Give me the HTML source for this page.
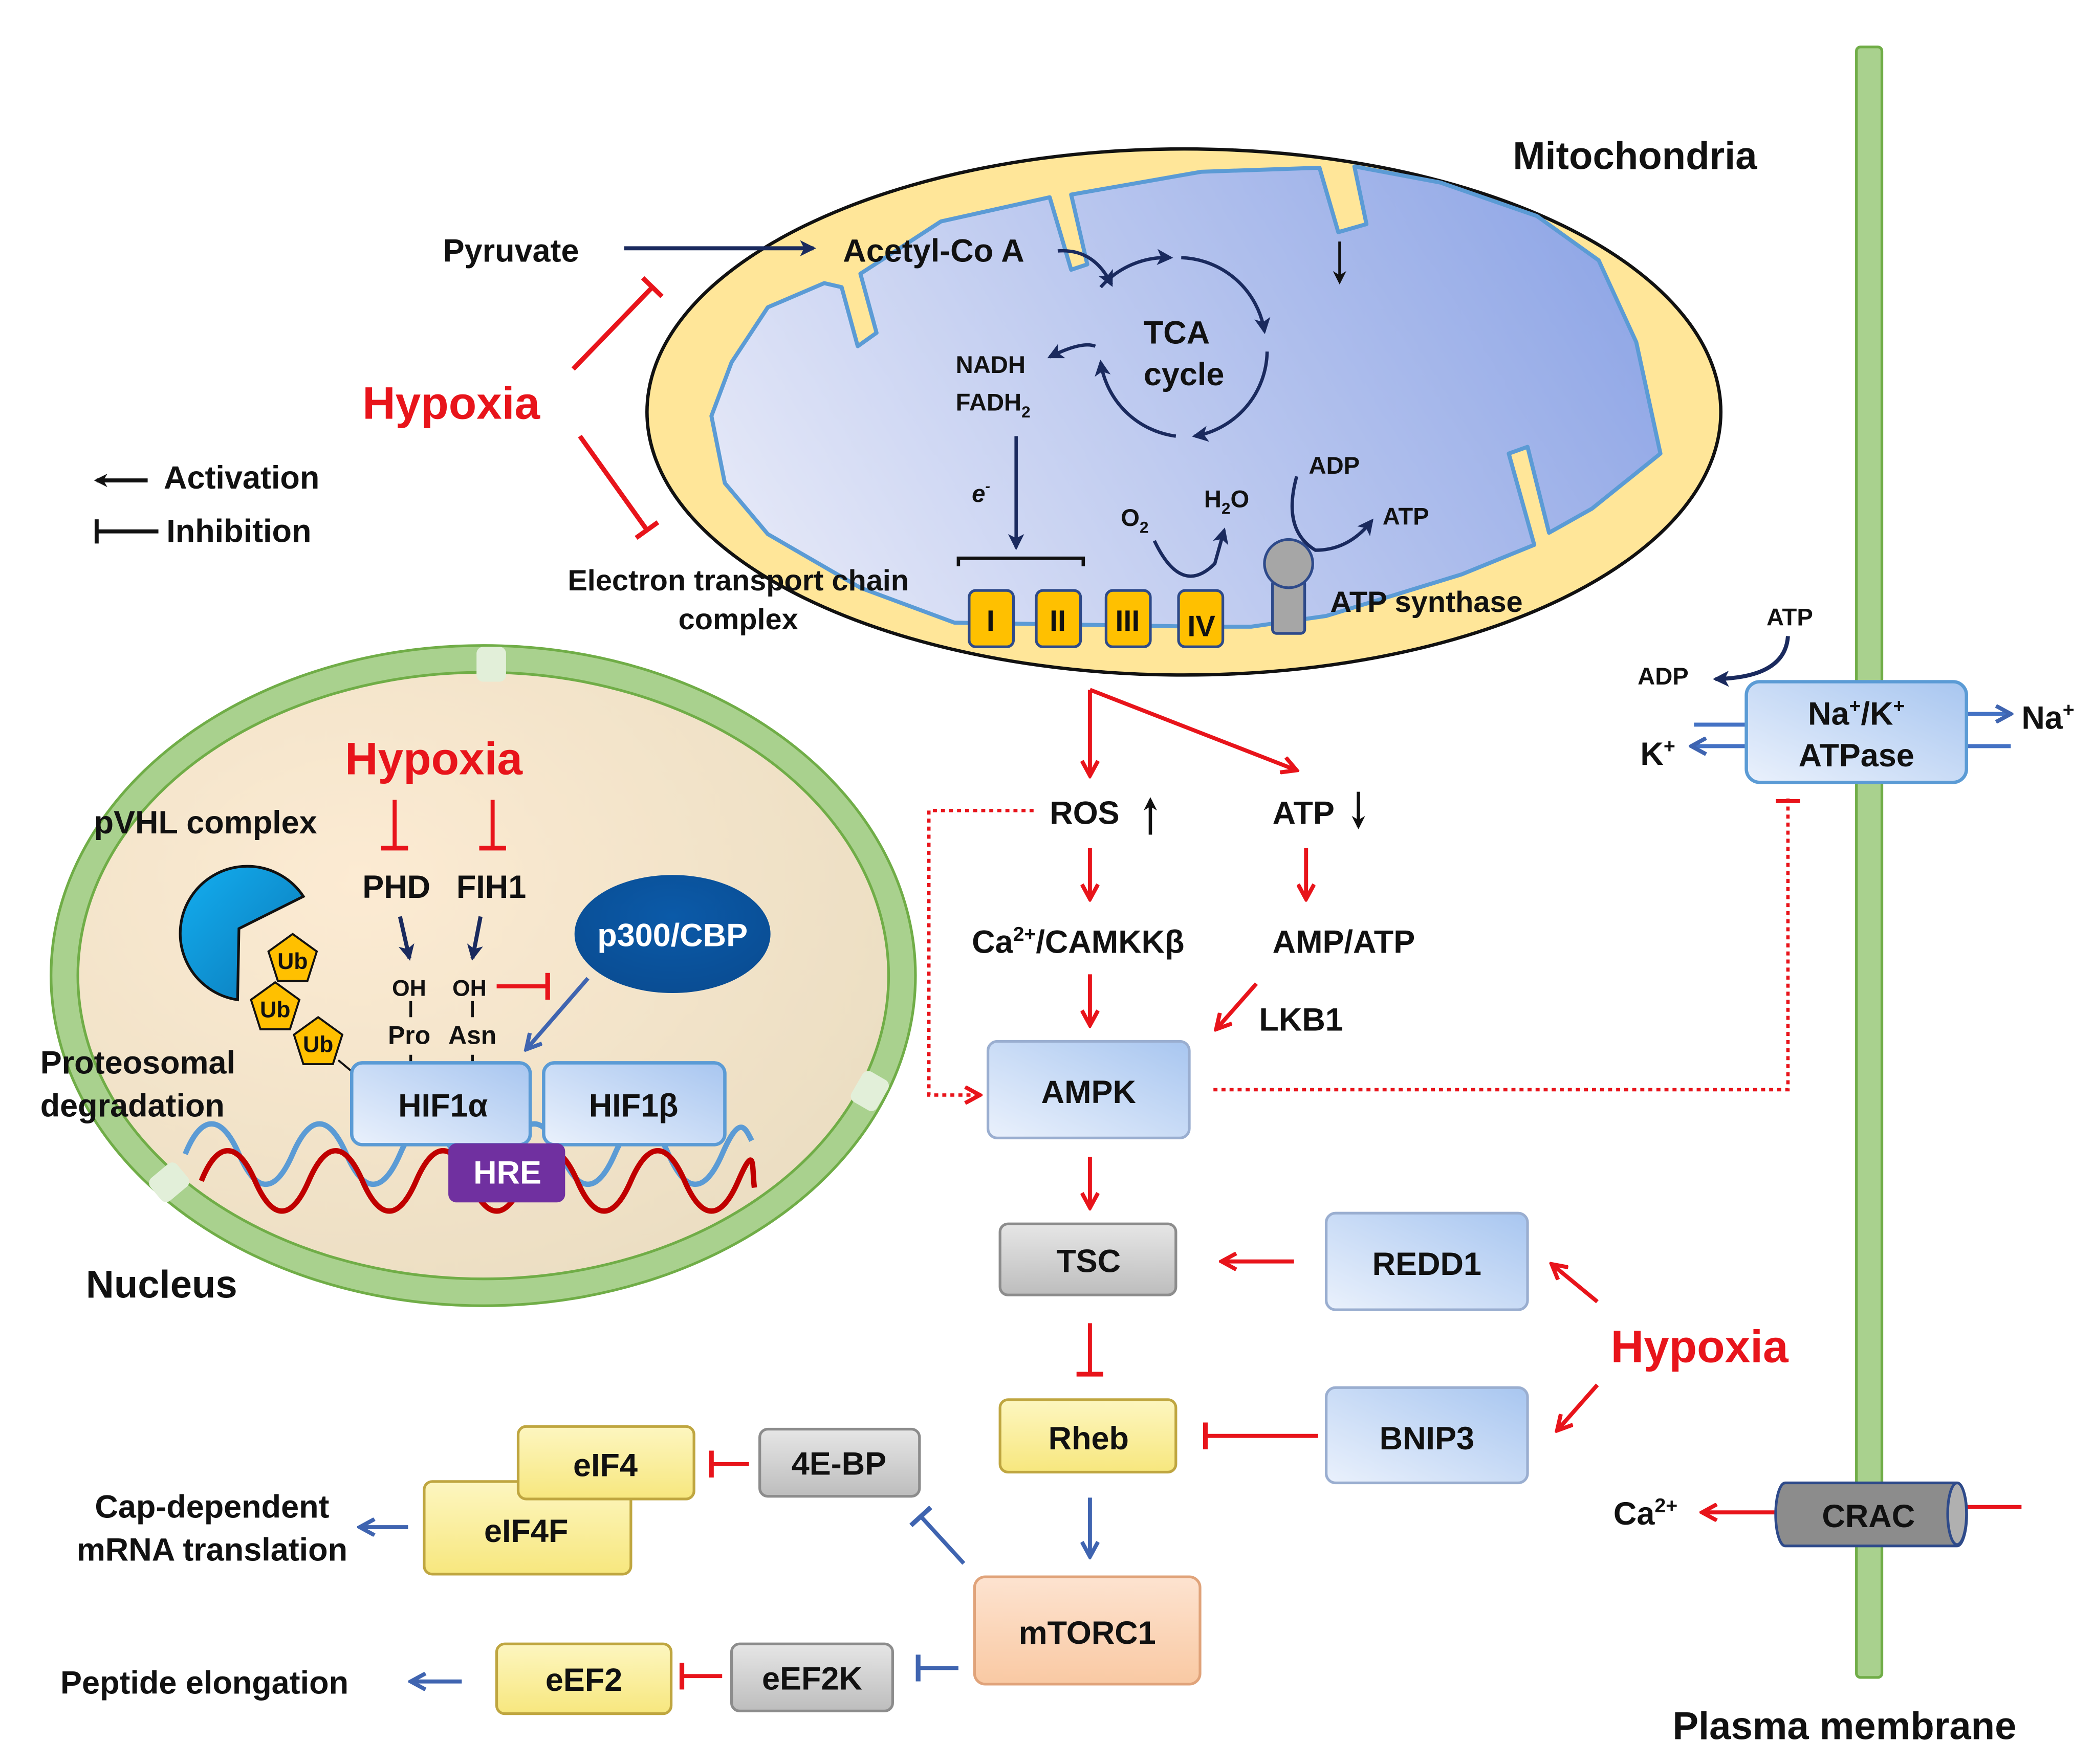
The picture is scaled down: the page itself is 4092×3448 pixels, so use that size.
<!DOCTYPE html>
<html><head><meta charset="utf-8"><style>
html,body{margin:0;padding:0;background:#fff}
svg{display:block}
text{font-family:"Liberation Sans",Arial,sans-serif;font-weight:bold;fill:#111}
</style></head><body>
<svg width="4092" height="3448" viewBox="0 0 1560 1314.5" xmlns="http://www.w3.org/2000/svg">
<defs>
<marker id="aK" markerWidth="10" markerHeight="10" refX="8" refY="5" orient="auto" markerUnits="userSpaceOnUse"><path d="M0,0 L10,5 L0,10 L3,5z" fill="#111"/></marker>
<marker id="aN" markerWidth="12" markerHeight="12" refX="10" refY="6" orient="auto" markerUnits="userSpaceOnUse"><path d="M0,0 L12,6 L0,12 L3,6z" fill="#1a2a5e"/></marker>
<marker id="aR" markerWidth="14" markerHeight="14" refX="12" refY="7" orient="auto" markerUnits="userSpaceOnUse"><path d="M1,1 L12,7 L1,13" fill="none" stroke="#e8141b" stroke-width="3"/></marker>
<marker id="aB" markerWidth="14" markerHeight="14" refX="12" refY="7" orient="auto" markerUnits="userSpaceOnUse"><path d="M1,1 L12,7 L1,13" fill="none" stroke="#3f64b0" stroke-width="3"/></marker>
<marker id="tR" markerWidth="4" markerHeight="20" refX="2" refY="10" orient="auto" markerUnits="userSpaceOnUse"><path d="M2,0 L2,20" stroke="#e8141b" stroke-width="3.5"/></marker>
<marker id="tB" markerWidth="4" markerHeight="20" refX="2" refY="10" orient="auto" markerUnits="userSpaceOnUse"><path d="M2,0 L2,20" stroke="#3f64b0" stroke-width="3.5"/></marker>
<linearGradient id="mito" x1="0" y1="0.6" x2="1" y2="0.3"><stop offset="0" stop-color="#e2e6f7"/><stop offset="1" stop-color="#8fa6e6"/></linearGradient>
<linearGradient id="bl" x1="0" y1="1" x2="1" y2="0"><stop offset="0" stop-color="#eaf1fc"/><stop offset="1" stop-color="#a8c6f0"/></linearGradient>
<linearGradient id="gr" x1="0" y1="0" x2="0" y2="1"><stop offset="0" stop-color="#e6e6e6"/><stop offset="1" stop-color="#bdbdbd"/></linearGradient>
<linearGradient id="ye" x1="0" y1="0" x2="0" y2="1"><stop offset="0" stop-color="#fdf6c0"/><stop offset="1" stop-color="#f7e77e"/></linearGradient>
<linearGradient id="pe" x1="0" y1="0" x2="0" y2="1"><stop offset="0" stop-color="#fde3d0"/><stop offset="1" stop-color="#f9c9a3"/></linearGradient>
<radialGradient id="nuc" cx="0.35" cy="0.35" r="0.8"><stop offset="0" stop-color="#fcebd3"/><stop offset="1" stop-color="#e9dcc0"/></radialGradient>
<linearGradient id="pac" x1="0" y1="0" x2="1" y2="1"><stop offset="0" stop-color="#13aef0"/><stop offset="1" stop-color="#0b78b7"/></linearGradient>
<radialGradient id="p300" cx="0.5" cy="0.35" r="0.7"><stop offset="0" stop-color="#0b5aa8"/><stop offset="1" stop-color="#0a4c92"/></radialGradient>
</defs>

<rect x="1383" y="35" width="19" height="1215" rx="3" fill="#a9d18e" stroke="#70ad47" stroke-width="2"/>
<text x="1246" y="1296" font-size="29">Plasma membrane</text>

<ellipse cx="882" cy="307" rx="400" ry="196" fill="#ffe699" stroke="#111" stroke-width="2.5"/>
<polygon points="572,229 614,211 627,214 639,258 653,248 641,204 701,165 782,147 798,201 810,197 798,145 895,128 983,125 997,173 1018,167 1009,124 1073,136 1145,161 1191,194 1219,255 1237,338 1186,379 1154,397 1138,333 1124,338 1143,406 1089,428 988,459 932,467 895,467 711,464 641,438 572,398 540,360 530,310 545,270" fill="url(#mito)" stroke="#5b9bd5" stroke-width="3" stroke-linejoin="round"/>
<text x="1127" y="126" font-size="29">Mitochondria</text>

<text x="330" y="195" font-size="24">Pyruvate</text>
<path d="M465,185 L606,185" stroke="#1a2a5e" stroke-width="3" marker-end="url(#aN)"/>
<text x="628" y="195" font-size="24">Acetyl-Co A</text>
<path d="M788,187 Q815,185 828,212" stroke="#1a2a5e" stroke-width="2.5" fill="none" marker-end="url(#aN)"/>
<g fill="none" stroke="#1a2a5e" stroke-width="2.5">
<path d="M820,214 A65,65 0 0 1 872,192" marker-end="url(#aN)"/>
<path d="M880,192 A65,65 0 0 1 942,247" marker-end="url(#aN)"/>
<path d="M944,262 A65,65 0 0 1 890,325" marker-end="url(#aN)"/>
<path d="M876,325 A65,65 0 0 1 820,270" marker-end="url(#aN)"/>
<path d="M816,258 Q806,254 782,266" marker-end="url(#aN)"/>
<path d="M757,325 L757,408" marker-end="url(#aN)"/>
<path d="M998,180 L998,210" stroke="#111" stroke-width="2" marker-end="url(#aK)"/>
<path d="M860,403 Q880,445 905,420 L912,395" marker-end="url(#aN)"/>
<path d="M966,355 Q955,395 980,410 Q1005,410 1022,388" marker-end="url(#aN)"/>
</g>
<text x="852" y="256" font-size="24">TCA</text>
<text x="852" y="287" font-size="24">cycle</text>
<text x="712" y="278" font-size="18">NADH</text>
<text x="712" y="306" font-size="18">FADH<tspan font-size="12" dy="5">2</tspan></text>
<text x="724" y="374" font-size="18" font-style="italic">e<tspan font-size="11" dy="-8">-</tspan></text>
<text x="835" y="392" font-size="18">O<tspan font-size="12" dy="5">2</tspan></text>
<text x="897" y="378" font-size="18">H<tspan font-size="12" dy="5">2</tspan><tspan dy="-5">O</tspan></text>
<text x="975" y="353" font-size="18">ADP</text>
<text x="1030" y="391" font-size="18">ATP</text>
<path d="M714,422 L714,416 L807,416 L807,422" stroke="#111" stroke-width="2.5" fill="none"/>
<g stroke="#2e4a8a" stroke-width="2" fill="#ffc000">
<rect x="722" y="440" width="33" height="42" rx="5"/>
<rect x="772" y="440" width="33" height="42" rx="5"/>
<rect x="824" y="440" width="33" height="42" rx="5"/>
<rect x="878" y="440" width="33" height="42" rx="5"/>
</g>
<text x="738" y="470" font-size="22" text-anchor="middle">I</text>
<text x="788" y="470" font-size="22" text-anchor="middle">II</text>
<text x="840" y="470" font-size="22" text-anchor="middle">III</text>
<text x="895" y="474" font-size="22" text-anchor="middle">IV</text>
<rect x="948" y="432" width="24" height="40" rx="3" fill="#a6a6a6" stroke="#2e4a8a" stroke-width="2"/>
<ellipse cx="960" cy="420" rx="18" ry="18" fill="#a6a6a6" stroke="#2e4a8a" stroke-width="2"/>
<text x="991" y="456" font-size="22">ATP synthase</text>
<text x="550" y="440" font-size="22" text-anchor="middle">Electron transport chain</text>
<text x="550" y="469" font-size="22" text-anchor="middle">complex</text>

<text x="270" y="312" font-size="34" style="fill:#e8141b">Hypoxia</text>
<path d="M427,275 L486,214" stroke="#e8141b" stroke-width="3.5" marker-end="url(#tR)"/>
<path d="M432,325 L482,395" stroke="#e8141b" stroke-width="3.5" marker-end="url(#tR)"/>

<path d="M110,358 L72,358" stroke="#111" stroke-width="3" marker-end="url(#aK)"/>
<text x="122" y="364" font-size="24">Activation</text>
<path d="M72,387 L72,405 M72,396 L118,396" stroke="#111" stroke-width="3"/>
<text x="124" y="404" font-size="24">Inhibition</text>

<ellipse cx="360" cy="727" rx="312" ry="236" fill="url(#nuc)" stroke="#a9d18e" stroke-width="20"/>
<ellipse cx="360" cy="727" rx="322" ry="246" fill="none" stroke="#70ad47" stroke-width="2"/>
<ellipse cx="360" cy="727" rx="302" ry="226" fill="none" stroke="#70ad47" stroke-width="2"/>
<rect x="355" y="482" width="22" height="26" rx="5" fill="#e2efd9"/>
<rect x="637" y="800" width="22" height="26" rx="5" fill="#e2efd9" transform="rotate(30 648 813)"/>
<rect x="115" y="868" width="22" height="26" rx="5" fill="#e2efd9" transform="rotate(50 126 881)"/>
<text x="64" y="967" font-size="29">Nucleus</text>
<text x="257" y="577" font-size="34" style="fill:#e8141b">Hypoxia</text>
<text x="70" y="621" font-size="24">pVHL complex</text>
<path d="M294,596 L294,632" stroke="#e8141b" stroke-width="3" marker-end="url(#tR)"/>
<path d="M367,596 L367,632" stroke="#e8141b" stroke-width="3" marker-end="url(#tR)"/>
<text x="270" y="669" font-size="24">PHD</text>
<text x="340" y="669" font-size="24">FIH1</text>
<path d="M298,683 L305,714" stroke="#1a2a5e" stroke-width="3" marker-end="url(#aN)"/>
<path d="M358,683 L352,714" stroke="#1a2a5e" stroke-width="3" marker-end="url(#aN)"/>
<text x="292" y="742" font-size="17">OH</text>
<text x="337" y="742" font-size="17">OH</text>
<path d="M306,746 L306,758 M352,746 L352,758 M306,786 L306,795 M352,786 L352,795" stroke="#111" stroke-width="2"/>
<text x="289" y="778" font-size="19">Pro</text>
<text x="334" y="778" font-size="19">Asn</text>
<path d="M370,735 L408,735" stroke="#e8141b" stroke-width="3" marker-end="url(#tR)"/>
<ellipse cx="501" cy="696" rx="73" ry="44" fill="url(#p300)"/>
<text x="501" y="705" font-size="24" text-anchor="middle" style="fill:#fff">p300/CBP</text>
<path d="M438,729 L392,782" stroke="#3f64b0" stroke-width="3" marker-end="url(#aB)"/>
<path d="M178,692 L226,668 A50,50 0 1 0 177,745 Z" fill="url(#pac)" stroke="#111" stroke-width="2"/>
<g fill="#ffc000" stroke="#111" stroke-width="1.5">
<polygon points="218,696 236,709 229,731 207,731 200,709"/>
<polygon points="205,732 223,745 216,767 194,767 187,745"/>
<polygon points="237,758 255,771 248,793 226,793 219,771"/>
</g>
<text x="218" y="722" font-size="17" text-anchor="middle">Ub</text>
<text x="205" y="758" font-size="17" text-anchor="middle">Ub</text>
<text x="237" y="784" font-size="17" text-anchor="middle">Ub</text>
<path d="M252,790 L264,800" stroke="#111" stroke-width="1.5"/>
<text x="30" y="800" font-size="24">Proteosomal</text>
<text x="30" y="832" font-size="24">degradation</text>
<path d="M138,860 C150,830 165,830 178,860 S205,890 218,860 S245,830 258,860 S285,890 298,860 S325,830 338,860 S365,890 378,860 S405,830 418,860 S445,890 458,860 S485,830 498,860 S525,890 538,860 S555,840 560,850" fill="none" stroke="#5b9bd5" stroke-width="4"/>
<path d="M150,880 C162,850 177,850 190,880 S217,910 230,880 S257,850 270,880 S297,910 310,880 S337,850 350,880 S377,910 390,880 S417,850 430,880 S457,910 470,880 S497,850 510,880 S537,910 550,880 S560,870 562,885" fill="none" stroke="#c00000" stroke-width="4"/>
<rect x="262" y="792" width="133" height="61" rx="8" fill="url(#bl)" stroke="#5b9bd5" stroke-width="2.5"/>
<rect x="405" y="792" width="135" height="61" rx="8" fill="url(#bl)" stroke="#5b9bd5" stroke-width="2.5"/>
<text x="330" y="832" font-size="24" text-anchor="middle">HIF1α</text>
<text x="472" y="832" font-size="24" text-anchor="middle">HIF1β</text>
<rect x="334" y="852" width="87" height="44" rx="6" fill="#7030a0"/>
<text x="378" y="882" font-size="24" text-anchor="middle" style="fill:#fff">HRE</text>

<path d="M812,514 L812,578" stroke="#e8141b" stroke-width="3" marker-end="url(#aR)"/>
<path d="M812,514 L966,574" stroke="#e8141b" stroke-width="3" marker-end="url(#aR)"/>
<text x="782" y="614" font-size="24">ROS</text>
<path d="M857,622 L857,596" stroke="#111" stroke-width="2.5" marker-end="url(#aK)"/>
<text x="948" y="614" font-size="24">ATP</text>
<path d="M1012,590 L1012,616" stroke="#111" stroke-width="2.5" marker-end="url(#aK)"/>
<path d="M812,632 L812,670" stroke="#e8141b" stroke-width="3" marker-end="url(#aR)"/>
<path d="M973,632 L973,670" stroke="#e8141b" stroke-width="3" marker-end="url(#aR)"/>
<text x="724" y="710" font-size="24">Ca<tspan font-size="15" dy="-9">2+</tspan><tspan dy="9">/CAMKKβ</tspan></text>
<text x="948" y="710" font-size="24">AMP/ATP</text>
<path d="M812,726 L812,764" stroke="#e8141b" stroke-width="3" marker-end="url(#aR)"/>
<path d="M936,733 L906,767" stroke="#e8141b" stroke-width="3" marker-end="url(#aR)"/>
<text x="938" y="768" font-size="24">LKB1</text>
<path d="M770,604 L692,604 L692,816 L730,816" stroke="#e8141b" stroke-width="2.5" stroke-dasharray="3,3" fill="none" marker-end="url(#aR)"/>
<path d="M904,812 L1332,812 L1332,594" stroke="#e8141b" stroke-width="2.5" stroke-dasharray="3,3" fill="none"/>
<path d="M1323,597 L1341,597" stroke="#e8141b" stroke-width="3"/>
<rect x="736" y="776" width="150" height="72" rx="7" fill="url(#bl)" stroke="#9aaed0" stroke-width="2"/>
<text x="811" y="822" font-size="24" text-anchor="middle">AMPK</text>
<path d="M812,862 L812,900" stroke="#e8141b" stroke-width="3" marker-end="url(#aR)"/>
<rect x="745" y="912" width="131" height="53" rx="6" fill="url(#gr)" stroke="#8c8c8c" stroke-width="2"/>
<text x="811" y="948" font-size="24" text-anchor="middle">TSC</text>
<rect x="988" y="904" width="150" height="72" rx="7" fill="url(#bl)" stroke="#9aaed0" stroke-width="2"/>
<text x="1063" y="950" font-size="24" text-anchor="middle">REDD1</text>
<path d="M964,940 L910,940" stroke="#e8141b" stroke-width="3" marker-end="url(#aR)"/>
<text x="1200" y="1015" font-size="34" style="fill:#e8141b">Hypoxia</text>
<path d="M1190,970 L1156,942" stroke="#e8141b" stroke-width="3" marker-end="url(#aR)"/>
<path d="M1190,1032 L1160,1066" stroke="#e8141b" stroke-width="3" marker-end="url(#aR)"/>
<path d="M812,986 L812,1024" stroke="#e8141b" stroke-width="3" marker-end="url(#tR)"/>
<rect x="745" y="1043" width="131" height="54" rx="6" fill="url(#ye)" stroke="#bfa640" stroke-width="2"/>
<text x="811" y="1080" font-size="24" text-anchor="middle">Rheb</text>
<rect x="988" y="1034" width="150" height="71" rx="7" fill="url(#bl)" stroke="#9aaed0" stroke-width="2"/>
<text x="1063" y="1080" font-size="24" text-anchor="middle">BNIP3</text>
<path d="M982,1070 L898,1070" stroke="#e8141b" stroke-width="3" marker-end="url(#tR)"/>
<path d="M812,1116 L812,1160" stroke="#3f64b0" stroke-width="3" marker-end="url(#aB)"/>
<rect x="726" y="1175" width="168" height="80" rx="8" fill="url(#pe)" stroke="#e0a37a" stroke-width="2"/>
<text x="810" y="1225" font-size="24" text-anchor="middle">mTORC1</text>
<path d="M718,1165 L686,1130" stroke="#3f64b0" stroke-width="3" marker-end="url(#tB)"/>
<path d="M714,1243 L684,1243" stroke="#3f64b0" stroke-width="3" marker-end="url(#tB)"/>
<rect x="566" y="1065" width="119" height="50" rx="6" fill="url(#gr)" stroke="#8c8c8c" stroke-width="2"/>
<text x="625" y="1099" font-size="24" text-anchor="middle">4E-BP</text>
<path d="M558,1091 L530,1091" stroke="#e8141b" stroke-width="3" marker-end="url(#tR)"/>
<rect x="316" y="1104" width="154" height="69" rx="6" fill="url(#ye)" stroke="#bfa640" stroke-width="2"/>
<rect x="386" y="1063" width="131" height="54" rx="6" fill="url(#ye)" stroke="#bfa640" stroke-width="2"/>
<text x="451" y="1100" font-size="24" text-anchor="middle">eIF4</text>
<text x="392" y="1149" font-size="24" text-anchor="middle">eIF4F</text>
<path d="M304,1138 L268,1138" stroke="#3f64b0" stroke-width="3" marker-end="url(#aB)"/>
<text x="158" y="1131" font-size="24" text-anchor="middle">Cap-dependent</text>
<text x="158" y="1163" font-size="24" text-anchor="middle">mRNA translation</text>
<rect x="545" y="1225" width="120" height="50" rx="6" fill="url(#gr)" stroke="#8c8c8c" stroke-width="2"/>
<text x="605" y="1259" font-size="24" text-anchor="middle">eEF2K</text>
<path d="M538,1249 L508,1249" stroke="#e8141b" stroke-width="3" marker-end="url(#tR)"/>
<rect x="370" y="1225" width="130" height="52" rx="6" fill="url(#ye)" stroke="#bfa640" stroke-width="2"/>
<text x="435" y="1260" font-size="24" text-anchor="middle">eEF2</text>
<path d="M344,1253 L306,1253" stroke="#3f64b0" stroke-width="3" marker-end="url(#aB)"/>
<text x="45" y="1262" font-size="24">Peptide elongation</text>

<path d="M1300,540 L1262,540" stroke="#4472c4" stroke-width="3"/>
<path d="M1300,556 L1260,556" stroke="#4472c4" stroke-width="3" marker-end="url(#aB)"/>
<path d="M1466,532 L1498,532" stroke="#4472c4" stroke-width="3" marker-end="url(#aB)"/>
<path d="M1466,556 L1498,556" stroke="#4472c4" stroke-width="3"/>
<rect x="1301" y="508" width="164" height="75" rx="10" fill="url(#bl)" stroke="#5b9bd5" stroke-width="2.5"/>
<text x="1383" y="540" font-size="24" text-anchor="middle">Na<tspan font-size="15" dy="-9">+</tspan><tspan dy="9">/K</tspan><tspan font-size="15" dy="-9">+</tspan></text>
<text x="1383" y="571" font-size="24" text-anchor="middle">ATPase</text>
<text x="1316" y="466" font-size="18">ATP</text>
<text x="1220" y="510" font-size="18">ADP</text>
<path d="M1332,474 Q1330,505 1278,506" stroke="#1a2a5e" stroke-width="3" fill="none" marker-end="url(#aN)"/>
<text x="1222" y="570" font-size="24">K<tspan font-size="15" dy="-9">+</tspan></text>
<text x="1506" y="543" font-size="24">Na<tspan font-size="15" dy="-9">+</tspan></text>

<path d="M1506,1123 L1462,1123" stroke="#e8141b" stroke-width="3"/>
<path d="M1322,1127 L1268,1127" stroke="#e8141b" stroke-width="3" marker-end="url(#aR)"/>
<path d="M1330,1105 L1458,1105 A7,23 0 0 1 1458,1152 L1330,1152 A7,23 0 0 1 1330,1105 Z" fill="#8c8c8c" stroke="#2e4a8a" stroke-width="2"/>
<ellipse cx="1458" cy="1128" rx="7" ry="23" fill="#b0b0b0" stroke="#2e4a8a" stroke-width="2"/>
<text x="1392" y="1138" font-size="24" text-anchor="middle">CRAC</text>
<text x="1202" y="1136" font-size="24">Ca<tspan font-size="15" dy="-9">2+</tspan></text>
</svg>
</body></html>
